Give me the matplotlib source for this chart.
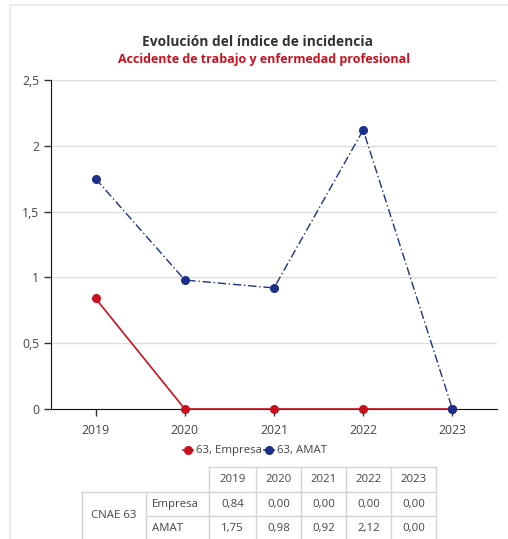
import matplotlib
matplotlib.use("Agg")
from matplotlib import pyplot as plt
from matplotlib.lines import Line2D

plt.rcParams['font.family'] = ['Open Sans', 'DejaVu Sans']

# datos del gráfico
years = ['2019', '2020', '2021', '2022', '2023']
empresa = [0.84, 0.00, 0.00, 0.00, 0.00]
amat = [1.75, 0.98, 0.92, 2.12, 0.00]
y_ticks = [0, 0.5, 1, 1.5, 2, 2.5]
series_names = ['63, Empresa', '63, AMAT']
row_group = 'CNAE 63'
row_names = ['Empresa', 'AMAT']

RED = '#c8101e'
BLUE = '#1c2f8a'
W, H = 508, 539


def fmt(v, dec=None):
    if dec is None:
        s = ('%g' % v)
    else:
        s = ('%.' + str(dec) + 'f') % v
    return s.replace('.', ',')


fig = plt.figure(figsize=(W / 100, H / 100), dpi=100)

# capa en píxeles para marco y tabla
bg = fig.add_axes([0, 0, 1, 1])
bg.set_xlim(0, W)
bg.set_ylim(H, 0)
bg.axis('off')
bg.plot([10, 10], [5, H], color='#f2e6e6', lw=1.2)
bg.plot([10, W], [5, 5], color='#f2e6e6', lw=1.2)

ax = fig.add_axes([51 / W, 1 - 409 / H, (497 - 51) / W, (409 - 80) / H])
x = list(range(len(years)))
ax.plot(x, amat, color=BLUE, lw=1, ls=(0, (6, 2, 1, 2)), marker='o', ms=5.5, zorder=3)
ax.plot(x, empresa, color=RED, lw=1.2, marker='o', ms=5.5, zorder=4, clip_on=False)
ax.plot(x[-1], amat[-1], color=BLUE, marker='o', ms=5.5, zorder=5, clip_on=False)

ax.set_xlim(-0.5, len(years) - 0.5)
ax.set_ylim(0, 2.5)
ax.set_yticks(y_ticks)
ax.set_yticklabels([fmt(v) for v in y_ticks])
ax.set_xticks(x)
ax.set_xticklabels(years)
ax.tick_params(axis='both', labelsize=8.8, colors='#333333', length=5, width=1)
ax.tick_params(axis='x', pad=6)
for t in ax.get_xticklabels() + ax.get_yticklabels():
    t.set_color('#444444')
ax.grid(axis='y', color='#dedede', lw=1)
ax.set_axisbelow(True)
for s in ['top', 'right']:
    ax.spines[s].set_visible(False)
ax.spines['left'].set_color('#111111')
ax.spines['bottom'].set_color('#111111')

fig.text(258 / W, 1 - 42 / H, 'Evolución del índice de incidencia', ha='center', va='center',
         fontsize=9.9, fontweight='bold', color='#333333')
fig.text(264 / W, 1 - 60 / H, 'Accidente de trabajo y enfermedad profesional', ha='center', va='center',
         fontsize=9.0, fontweight='bold', color=RED)

handles = [Line2D([], [], color=RED, marker='o', ms=5.5, lw=1.2),
           Line2D([], [], color=BLUE, marker='o', ms=5.5, lw=1.2)]
fig.legend(handles, series_names, loc='center', bbox_to_anchor=(255 / W, 1 - 451 / H), ncol=2,
           frameon=False, fontsize=8.2, handlelength=0.9, handletextpad=0.3, columnspacing=0.1,
           labelcolor='#444444')

# tabla
xs = [82, 146, 209, 256, 301, 346, 391, 436]
ys = [467, 492, 516, 541]
gc = '#d4d4d4'
bg.plot([xs[2], xs[-1]], [ys[0], ys[0]], color=gc, lw=1)
bg.plot([xs[0], xs[-1]], [ys[1], ys[1]], color=gc, lw=1)
bg.plot([xs[1], xs[-1]], [ys[2], ys[2]], color=gc, lw=1)
for xv in xs[:2]:
    bg.plot([xv, xv], [ys[1], ys[3]], color=gc, lw=1)
for xv in xs[2:]:
    bg.plot([xv, xv], [ys[0], ys[3]], color=gc, lw=1)

tc = '#444444'
fs = 8.2
for i, yr in enumerate(years):
    bg.text((xs[i + 2] + xs[i + 3]) / 2, (ys[0] + ys[1]) / 2, yr, ha='center', va='center', fontsize=fs, color=tc)
bg.text((xs[0] + xs[1]) / 2, (ys[1] + ys[3] - 2) / 2, row_group, ha='center', va='center', fontsize=fs, color=tc)
for r, (name, vals) in enumerate(zip(row_names, [empresa, amat])):
    yc = (ys[r + 1] + ys[r + 2]) / 2
    bg.text(xs[1] + 6, yc, name, ha='left', va='center', fontsize=fs, color=tc)
    for i, v in enumerate(vals):
        bg.text((xs[i + 2] + xs[i + 3]) / 2, yc, fmt(v, 2), ha='center', va='center', fontsize=fs, color=tc)

fig.savefig('out.png', dpi=100)
